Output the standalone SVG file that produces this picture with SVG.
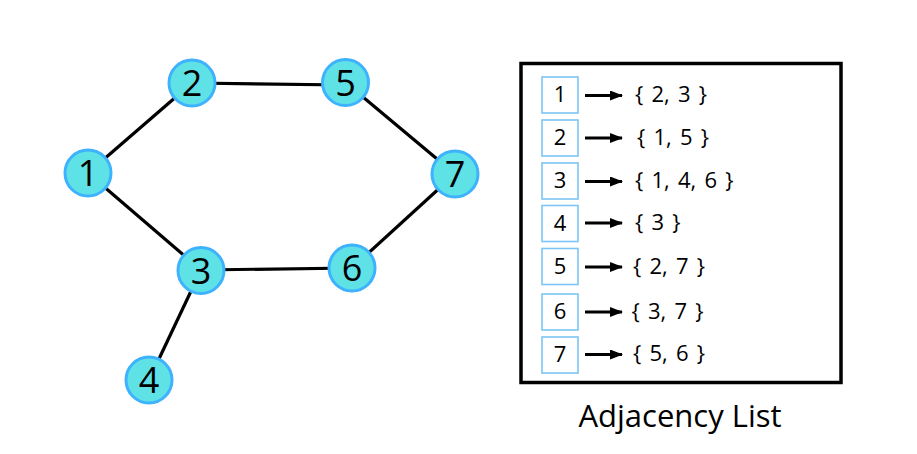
<svg xmlns="http://www.w3.org/2000/svg" width="917" height="454" viewBox="0 0 917 454">
<style>
.edge{stroke:#000;stroke-width:3.2;fill:none}
.node circle{fill:#5ee2e6;stroke:#3fb2fd;stroke-width:3}
.node text{font-family:"Open Sans","DejaVu Sans",sans-serif;font-size:36px;fill:#000;text-anchor:middle}
.cell{fill:#fff;stroke:#7cc5f6;stroke-width:1.6}
.lt{font-family:"Open Sans","DejaVu Sans",sans-serif;font-size:22px;fill:#000;word-spacing:2.5px}
.arr{stroke:#000;stroke-width:2.8;marker-end:url(#ah)}
</style>
<defs>
<marker id="ah" markerWidth="13" markerHeight="10" refX="12" refY="5" orient="auto" markerUnits="userSpaceOnUse">
<path d="M0,0 L13,5 L0,10 Z" fill="#000"/>
</marker>
</defs>
<rect width="917" height="454" fill="#fff"/>
<g id="connectors">
<line class="edge" x1="88" y1="173" x2="192" y2="83"/>
<line class="edge" x1="192" y1="83" x2="345" y2="85"/>
<line class="edge" x1="345" y1="82" x2="455" y2="174"/>
<line class="edge" x1="455" y1="174" x2="352" y2="268"/>
<line class="edge" x1="352" y1="268" x2="201" y2="270"/>
<line class="edge" x1="201" y1="270" x2="88" y2="173"/>
<line class="edge" x1="201" y1="270" x2="149" y2="380"/>
</g>
<g id="n1" class="node"><circle cx="88" cy="173" r="23"/><text x="88" y="186">1</text></g>
<g id="n2" class="node"><circle cx="192" cy="83" r="23"/><text x="192" y="96">2</text></g>
<g id="n5" class="node"><circle cx="345.5" cy="82.5" r="23"/><text x="345.5" y="95.5">5</text></g>
<g id="n7" class="node"><circle cx="455" cy="174" r="23"/><text x="455" y="187">7</text></g>
<g id="n6" class="node"><circle cx="352" cy="268" r="23"/><text x="352" y="281">6</text></g>
<g id="n3" class="node"><circle cx="201" cy="270.5" r="23"/><text x="201" y="283.5">3</text></g>
<g id="n4" class="node"><circle cx="149" cy="380" r="23"/><text x="149" y="393">4</text></g>
<g id="adjacency-list">
<rect x="521" y="63.5" width="320" height="319" fill="none" stroke="#000" stroke-width="3.5"/>
<g id="row1"><rect class="cell" x="542" y="77" width="36" height="36"/><text class="lt" x="560" y="102" text-anchor="middle">1</text><line class="arr" x1="585" y1="95.5" x2="622" y2="95.5"/><text class="lt" x="635" y="102">{ 2, 3 }</text></g>
<g id="row2"><rect class="cell" x="542" y="120" width="36" height="36"/><text class="lt" x="560" y="145" text-anchor="middle">2</text><line class="arr" x1="585" y1="138" x2="622" y2="138"/><text class="lt" x="637" y="145">{ 1, 5 }</text></g>
<g id="row3"><rect class="cell" x="542" y="163" width="36" height="36"/><text class="lt" x="560" y="188" text-anchor="middle">3</text><line class="arr" x1="585" y1="181.5" x2="622" y2="181.5"/><text class="lt" x="635" y="188">{ 1, 4, 6 }</text></g>
<g id="row4"><rect class="cell" x="542" y="205.5" width="36" height="36"/><text class="lt" x="560" y="230.5" text-anchor="middle">4</text><line class="arr" x1="585" y1="223" x2="622" y2="223"/><text class="lt" x="635" y="230">{ 3 }</text></g>
<g id="row5"><rect class="cell" x="542" y="248.5" width="36" height="36"/><text class="lt" x="560" y="273.5" text-anchor="middle">5</text><line class="arr" x1="585" y1="267" x2="622" y2="267"/><text class="lt" x="633" y="274">{ 2, 7 }</text></g>
<g id="row6"><rect class="cell" x="542" y="294" width="36" height="36"/><text class="lt" x="560" y="319" text-anchor="middle">6</text><line class="arr" x1="585" y1="312" x2="622" y2="312"/><text class="lt" x="631.5" y="319">{ 3, 7 }</text></g>
<g id="row7"><rect class="cell" x="542" y="337" width="36" height="36"/><text class="lt" x="560" y="362" text-anchor="middle">7</text><line class="arr" x1="585" y1="354.5" x2="622" y2="354.5"/><text class="lt" x="633" y="361">{ 5, 6 }</text></g>
</g>
<text x="680" y="427" font-family="'Open Sans','DejaVu Sans',sans-serif" font-size="31" fill="#000" text-anchor="middle">Adjacency List</text>
</svg>
